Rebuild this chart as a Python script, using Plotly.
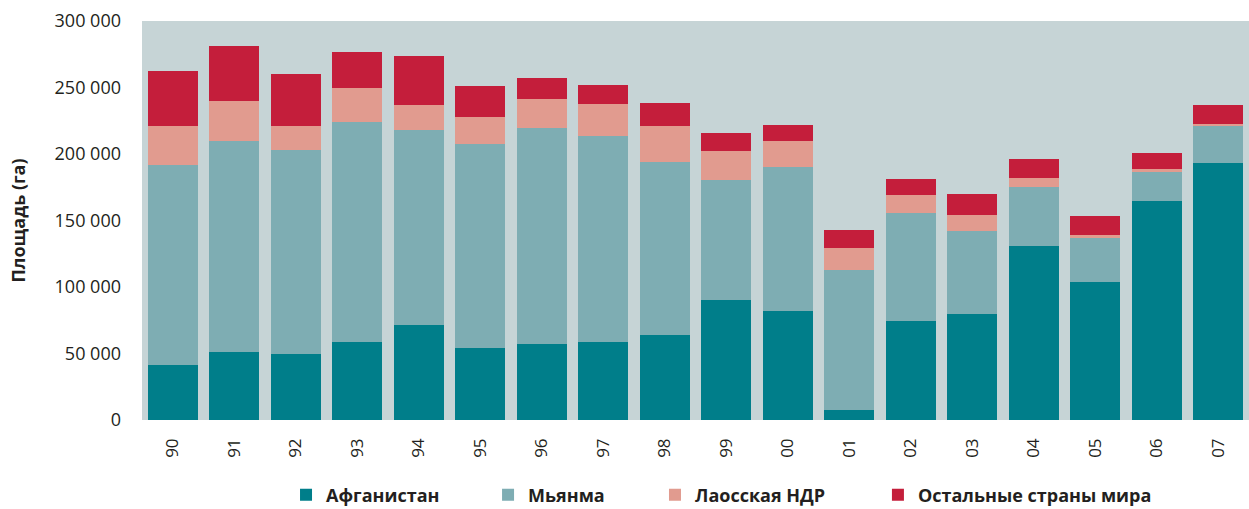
import plotly.graph_objects as go

# годы (подписи по оси X)
years = ["90", "91", "92", "93", "94", "95", "96", "97", "98",
         "99", "00", "01", "02", "03", "04", "05", "06", "07"]

# площадь посевов опийного мака, га
afghanistan = [41300, 50800, 49300, 58300, 71500, 53800, 56800, 58400, 63700,
               90600, 82200, 7600, 74100, 80000, 131000, 104000, 165000, 193000]
myanmar = [150100, 159000, 153700, 165800, 146600, 153400, 163000, 155000, 130300,
           89500, 108300, 105000, 81400, 62200, 44200, 33000, 21500, 27700]
laos = [29500, 30000, 18000, 25600, 18500, 20300, 21800, 24000, 27000,
        22500, 19500, 16600, 13500, 12000, 7000, 1800, 2500, 1500]
rest = [41500, 41300, 39200, 27000, 37400, 23300, 15800, 14300, 17300,
        13500, 12000, 13500, 12100, 15800, 14300, 14300, 12000, 14300]

series = [
    ("Афганистан", afghanistan, "#007e8a", "legend"),
    ("Мьянма", myanmar, "#7eadb3", "legend2"),
    ("Лаосская НДР", laos, "#e19b8f", "legend3"),
    ("Остальные страны мира", rest, "#c41e3b", "legend4"),
]

fig = go.Figure()
for name, vals, color, lg in series:
    fig.add_trace(go.Bar(x=years, y=vals, name=name, marker_color=color,
                         marker_line_width=0, legend=lg, showlegend=True))

txt = "#231f20"
font = "Open Sans, Noto Sans, sans-serif"

# каждая подпись легенды отдельно, чтобы выставить позиции как в оригинале
leg_x = [0.1301, 0.3126, 0.4634, 0.6648]
leg_common = dict(orientation="h", yanchor="middle", xanchor="left", y=-0.188,
                  bgcolor="rgba(0,0,0,0)",
                  font=dict(family=font, size=18, color=txt, weight="bold"))

fig.update_layout(
    barmode="stack",
    bargap=0.187,
    showlegend=True,
    width=1249, height=509,
    margin=dict(l=142, r=0, t=21, b=89, autoexpand=False),
    plot_bgcolor="#c6d4d6",
    paper_bgcolor="white",
    separators=", ",
    font=dict(family=font, color=txt),
    legend=dict(x=leg_x[0], **leg_common),
    legend2=dict(x=leg_x[1], **leg_common),
    legend3=dict(x=leg_x[2], **leg_common),
    legend4=dict(x=leg_x[3], **leg_common),
    xaxis=dict(tickangle=-90, showgrid=False, ticks="", ticklabelstandoff=14,
               automargin=False, tickfont=dict(size=17, color=txt)),
    yaxis=dict(range=[0, 300000], dtick=50000, tickformat=",d", showgrid=False,
               zeroline=False, ticks="", ticklabelstandoff=20, automargin=False,
               tickfont=dict(size=18, color=txt),
               title=dict(text="Площадь (га)", standoff=24,
                          font=dict(size=18, color=txt, weight="bold"))),
)

# убираем стандартный отступ body, чтобы график стоял ровно в окне
fig.write_html("out.html", config={"displayModeBar": False},
               post_script="document.body.style.margin='0';")
